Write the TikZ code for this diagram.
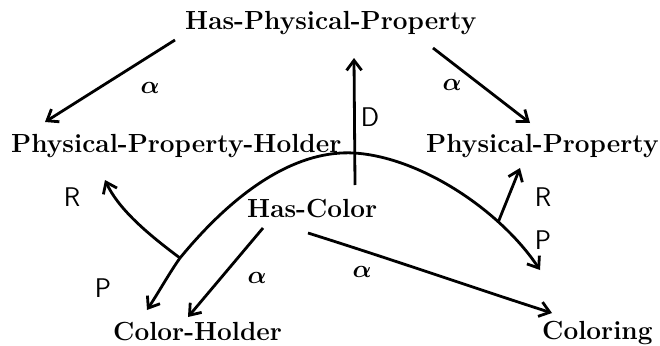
\documentclass[tikz,border=0pt]{standalone}
\usetikzlibrary{arrows.meta}
\begin{document}
\begin{tikzpicture}[x=1pt,y=-1pt,
  lbl/.style={inner sep=0pt,anchor=base west,font=\fontsize{26.2}{30}\selectfont\bfseries},
  glab/.style={inner sep=0pt,font=\fontsize{30}{34}\selectfont\boldmath},
  slab/.style={inner sep=0pt,font=\fontsize{27}{32}\selectfont\sffamily},
  arr/.style={line width=2.8pt,-{Straight Barb[length=10pt,width=15pt,line width=2.8pt]}},
  arrb/.style={line width=2.8pt,{Straight Barb[length=10pt,width=15pt,line width=2.8pt]}-{Straight Barb[length=10pt,width=15pt,line width=2.8pt]}}]
\useasboundingbox (0,0) rectangle (660,345);
% texts
\node[lbl] (hpp) at (185,30) {Has-Physical-Property};
\node[lbl] (pph) at (11,152) {Physical-Property-Holder};
\node[lbl] (pp) at (426,152) {Physical-Property};
\node[lbl] (hc) at (247,217) {Has-Color};
\node[lbl] (ch) at (113,340) {Color-Holder};
\node[lbl] (col) at (542,339) {Coloring};
% connector end points
\coordinate (a1s) at (175,40);  \coordinate (a1e) at (45,122);
\coordinate (a2s) at (433,48);  \coordinate (a2e) at (530,123);
\coordinate (ds) at (355,185);  \coordinate (de) at (354,58);
\coordinate (J) at (180,258);   \coordinate (pl) at (147,310);
\coordinate (pk) at (354,153);  \coordinate (pr) at (540,270);
\coordinate (rl) at (105,180);  \coordinate (rr) at (520,168);
\coordinate (a3s) at (263,228); \coordinate (a3e) at (188,317);
\coordinate (a4s) at (308,233); \coordinate (a4e) at (552,313);
% connectors
\draw[arr] (a1s) -- (a1e);
\draw[arr] (a2s) -- (a2e);
\draw[arr] (ds) -- (de);
\draw[arrb] (pl) .. controls (160,290) and (170,272) .. (J)
  .. controls (240,185) and (300,150) .. (pk)
  .. controls (420,157) and (500,210) .. coordinate[pos=0.72] (rj) (pr);
\draw[arr] (J) .. controls (145,232) and (118,208) .. (rl);
\draw[arr] (rj) -- (rr);
\draw[arr] (a3s) -- (a3e);
\draw[arr] (a4s) .. controls (400,262) and (480,290) .. (a4e);
% labels
\node[glab] (la1) at (150,88) {$\alpha$};
\node[glab] (la2) at (452,85) {$\alpha$};
\node[slab] (ld) at (370,117) {D};
\node[slab] (lrl) at (72,197) {R};
\node[slab] (lpl) at (103,288) {P};
\node[glab] (la3) at (257,278) {$\alpha$};
\node[glab] (la4) at (362,272) {$\alpha$};
\node[slab] (lrr) at (543,197) {R};
\node[slab] (lpr) at (543,240) {P};
\end{tikzpicture}
\end{document}
